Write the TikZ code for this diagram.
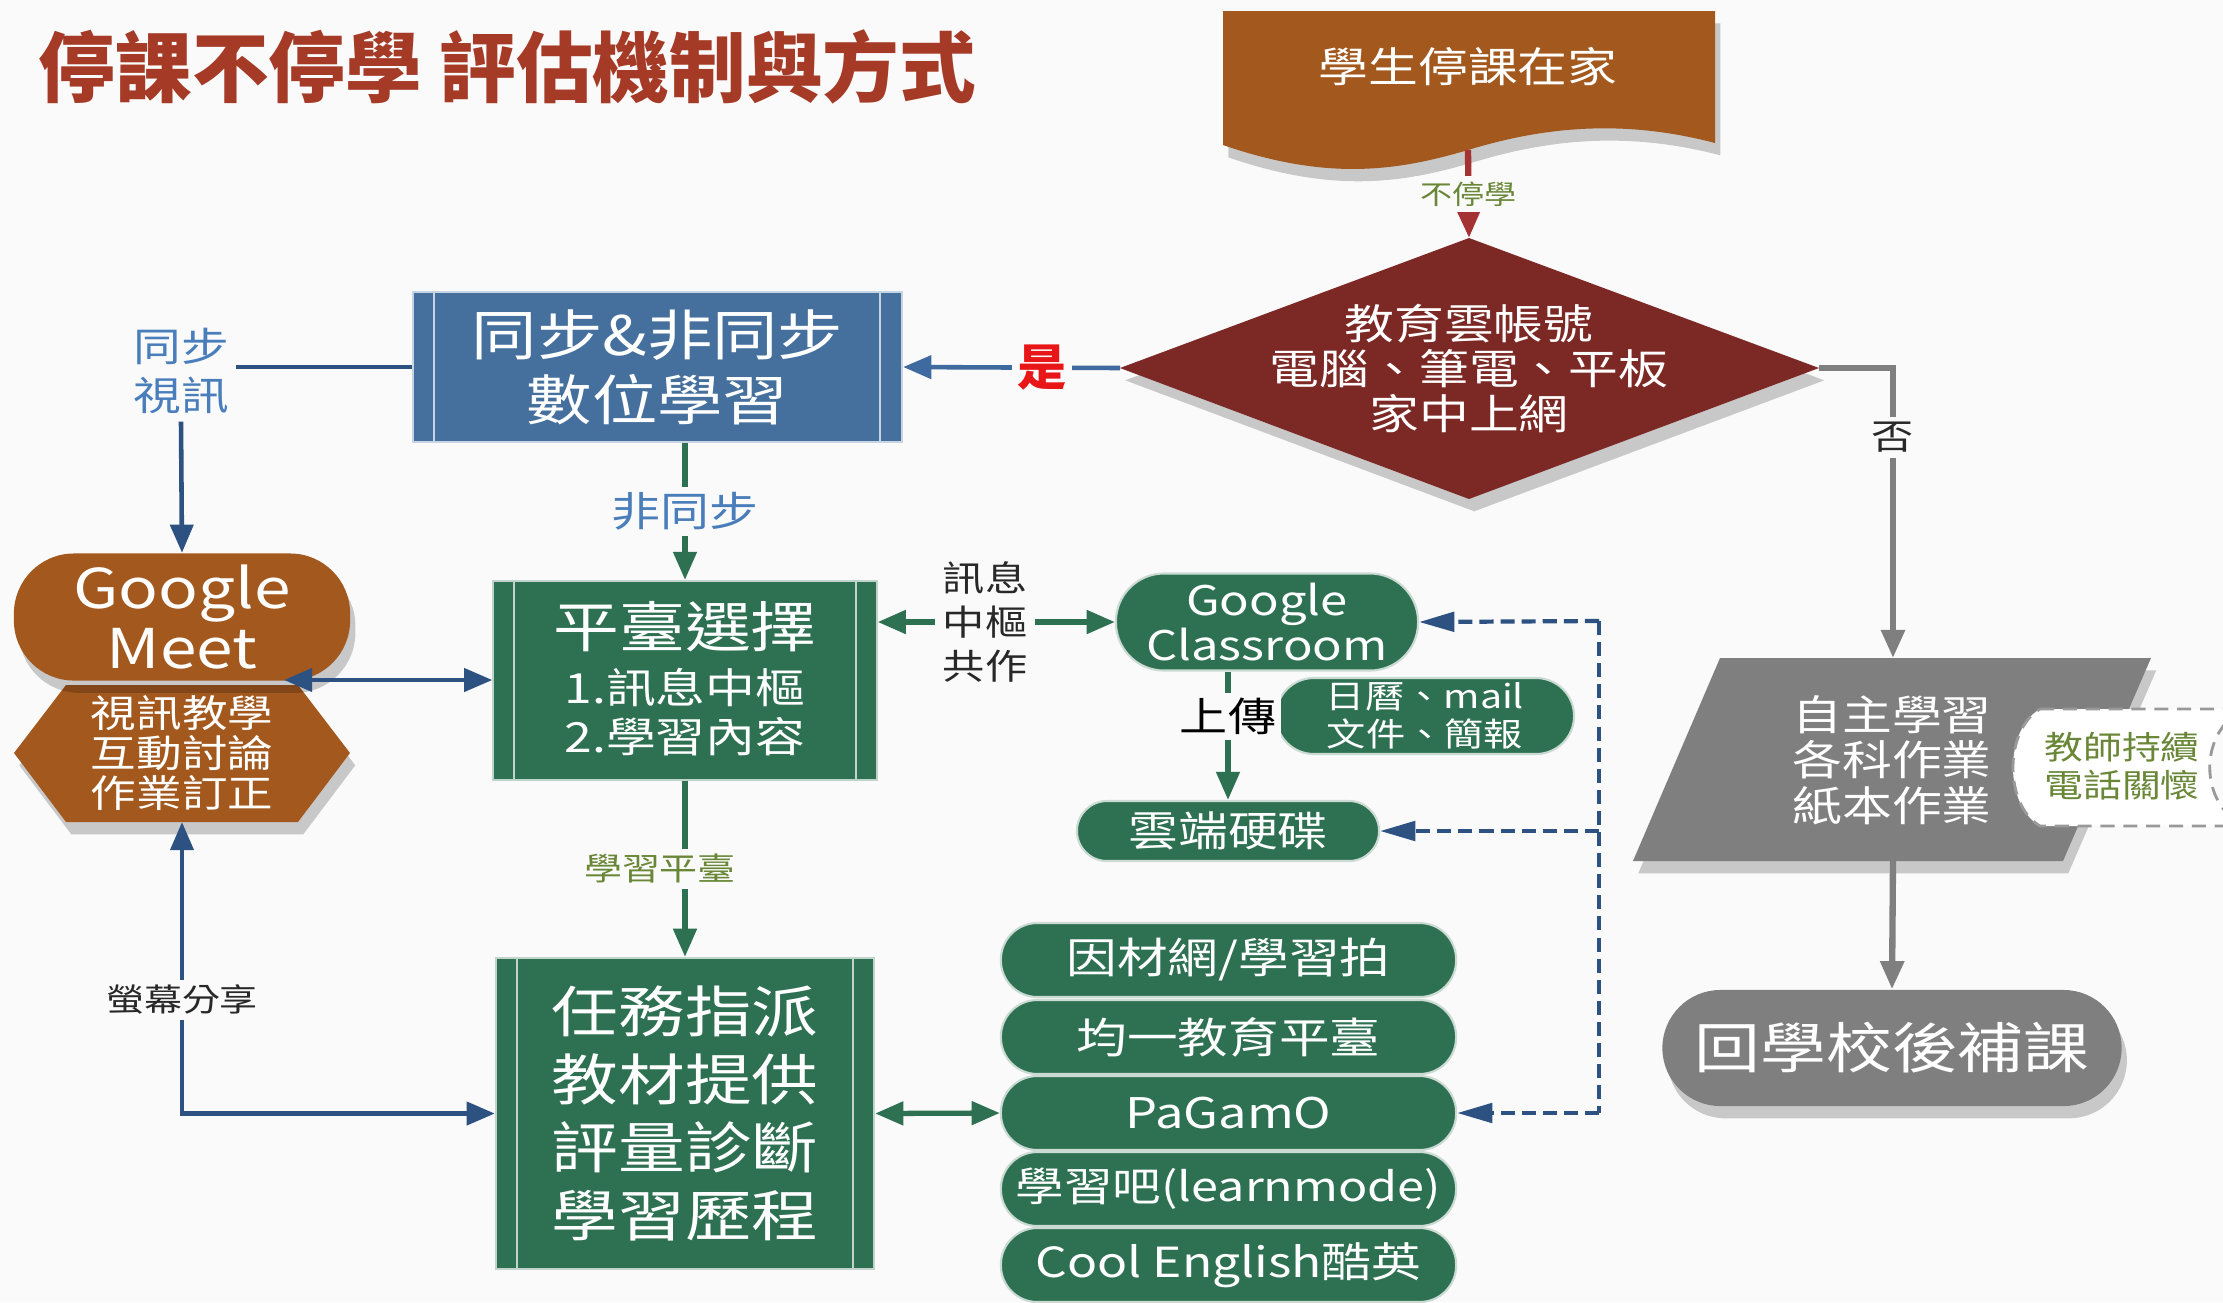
\documentclass[tikz,border=0pt]{standalone}
\usepackage{fontspec}
\usetikzlibrary{arrows.meta,shapes.geometric,shadows,calc}
\newfontfamily\cjk[FakeStretch=1.2]{Noto Sans CJK TC}
\newfontfamily\cjkt{Noto Sans CJK TC}
\newcommand\myfs[2]{\fontsize{#1}{#2}\selectfont}
\definecolor{bg}{RGB}{250,250,251}
\definecolor{titlec}{RGB}{165,58,38}
\definecolor{brownc}{RGB}{163,88,30}
\definecolor{redc}{RGB}{124,40,36}
\definecolor{bluebox}{RGB}{69,112,158}
\definecolor{greenc}{RGB}{46,113,82}
\definecolor{navy}{RGB}{45,82,130}
\definecolor{bluetext}{RGB}{74,126,187}
\definecolor{grayc}{RGB}{127,127,127}
\definecolor{olivec}{RGB}{105,135,55}
\definecolor{arrred}{RGB}{165,50,50}
\definecolor{linkblue}{RGB}{62,106,160}
\definecolor{yesred}{RGB}{232,22,22}
\definecolor{darktext}{RGB}{40,40,40}
\begin{document}
\begin{tikzpicture}[x=0.01cm,y=-0.01cm,
  shad/.style={drop shadow={shadow xshift=1.5pt,shadow yshift=-3.5pt,opacity=0.2,fill=black}},
  wt/.style={text=white,align=center,inner sep=0pt},
  tipa/.tip={Triangle[length=8pt,width=6.5pt]},
  tipd/.tip={Triangle[length=10pt,width=5.5pt]},
  garr/.style={draw=greenc,line width=1.5pt,-tipa},
  gboth/.style={draw=greenc,line width=1.5pt,tipa-tipa},
  narr/.style={draw=navy,line width=1.3pt,-tipa},
  nboth/.style={draw=navy,line width=1.3pt,tipa-tipa},
  dline/.style={draw=navy,line width=1.2pt,dash pattern=on 4pt off 2pt},
  darr/.style={dline,-tipd},
  lbl/.style={fill=bg,inner sep=1.5pt,align=center},
  stad/.style={fill=greenc,draw=white!75!greenc,line width=0.6pt,wt},
  pbox/.style={draw=white!70!#1,fill=#1,line width=0.6pt,wt},
]
\useasboundingbox (0,0) rectangle (2223,1302);
\fill[bg] (0,0) rectangle (2223,1302);

% title
\node[anchor=west,inner sep=0pt,text=titlec,font=\cjkt\bfseries\myfs{21.8}{24}] (title) at (38,67) {停課不停學 評估機制與方式};

% top document shape
\fill[brownc,shad] (1223,11) -- (1715,11) -- (1715,143)
  .. controls (1620,118) and (1540,128) .. (1468,150)
  .. controls (1400,170) and (1330,182) .. (1223,145) -- cycle;
\node[wt,font=\cjk\myfs{11.8}{14}] (home) at (1468,67) {學生停課在家};
\coordinate (hB) at (1468,150);

% diamond
\fill[redc,shad] (1120,368) -- (1469,238) -- (1819,368) -- (1469,499) -- cycle;
\coordinate (dT) at (1469,238);
\coordinate (dL) at (1120,368);
\coordinate (dR) at (1819,368);
\node[wt,font=\cjk\myfs{11.8}{12.8}] (diam) at (1469,368) {教育雲帳號\\電腦、筆電、平板\\家中上網};

% blue process box
\node[pbox=bluebox,minimum width=4.89cm,minimum height=1.50cm,font=\cjk\myfs{15.5}{18.5}] (sync) at (657.5,367) {同步\&非同步\\數位學習};
\draw[white!70!bluebox,line width=0.6pt] ([xshift=0.22cm]sync.north west) -- ([xshift=0.22cm]sync.south west);
\draw[white!70!bluebox,line width=0.6pt] ([xshift=-0.23cm]sync.north east) -- ([xshift=-0.23cm]sync.south east);

% platform choice box
\node[pbox=greenc,minimum width=3.83cm,minimum height=1.99cm] (plat) at (685,680.5) {};
\draw[white!70!greenc,line width=0.6pt] ([xshift=0.22cm]plat.north west) -- ([xshift=0.22cm]plat.south west);
\draw[white!70!greenc,line width=0.6pt] ([xshift=-0.22cm]plat.north east) -- ([xshift=-0.22cm]plat.south east);
\node[wt,font=\cjk\myfs{15.6}{18}] (platT) at (685,627) {平臺選擇};
\node[wt,font=\cjk\myfs{11.8}{14}] (platL) at (685,712) {1.訊息中樞\\2.學習內容};

% task box
\node[pbox=greenc,minimum width=3.78cm,minimum height=3.11cm,font=\cjk\myfs{15.8}{19.3}] (task) at (685,1113.5) {任務指派\\教材提供\\評量診斷\\學習歷程};
\draw[white!70!greenc,line width=0.6pt] ([xshift=0.22cm]task.north west) -- ([xshift=0.22cm]task.south west);
\draw[white!70!greenc,line width=0.6pt] ([xshift=-0.22cm]task.north east) -- ([xshift=-0.22cm]task.south east);

% Google Meet + hexagon
\fill[brownc,shad] (14,753) -- (66,685) -- (298,685) -- (350,753) -- (298,822) -- (66,822) -- cycle;
\node[wt,font=\cjk\myfs{10.8}{11.5}] (hext) at (182,753) {視訊教學\\互動討論\\作業訂正};
\coordinate (hexB) at (182,822);
\node[fill=brownc,rounded corners=0.6cm,minimum width=3.36cm,minimum height=1.27cm,wt,font=\cjk\myfs{15.6}{17},shad] (meet) at (182,617) {Google\\Meet};
\coordinate (meetR) at (284,680);

% sync label
\node[inner sep=2pt,align=center,text=bluetext,font=\cjk\myfs{11.3}{14}] (sv) at (181,371) {同步\\視訊};

% Google Classroom etc.
\node[stad,rounded corners=0.48cm,minimum width=3.02cm,minimum height=0.97cm,font=\cjk\myfs{11.6}{12.9}] (gc) at (1267,622) {Google\\Classroom};
\node[stad,rounded corners=0.38cm,minimum width=2.98cm,minimum height=0.76cm,font=\cjk\myfs{9.3}{10.9}] (cal) at (1425,716) {日曆、mail\\文件、簡報};
\node[stad,rounded corners=0.30cm,minimum width=3.02cm,minimum height=0.60cm,font=\cjk\myfs{11.8}{14}] (cloud) at (1228,831) {雲端硬碟};
\node[inner sep=2pt,align=center,text=darktext,font=\cjk\myfs{10}{12.5}] (msg) at (985,622) {訊息\\中樞\\共作};

% stacked platforms
\node[stad,rounded corners=0.365cm,minimum width=4.55cm,minimum height=0.74cm,font=\cjk\myfs{12}{14}] (s1) at (1228.5,960) {因材網/學習拍};
\node[stad,rounded corners=0.365cm,minimum width=4.55cm,minimum height=0.74cm,font=\cjk\myfs{12}{14}] (s2) at (1228.5,1037) {均一教育平臺};
\node[stad,rounded corners=0.365cm,minimum width=4.55cm,minimum height=0.74cm,font=\cjk\myfs{12}{14}] (s3) at (1228.5,1113) {PaGamO};
\node[stad,rounded corners=0.365cm,minimum width=4.55cm,minimum height=0.74cm,font=\cjk\myfs{11.5}{14}] (s4) at (1228.5,1189) {學習吧(learnmode)};
\node[stad,rounded corners=0.365cm,minimum width=4.55cm,minimum height=0.74cm,font=\cjk\myfs{11.8}{14}] (s5) at (1228.5,1265) {Cool English酷英};

% right branch
\fill[grayc,shad] (1720,658) -- (2151,658) -- (2063,861) -- (1633,861) -- cycle;
\coordinate (pT) at (1893,658);
\coordinate (pB) at (1893,861);
\node[wt,font=\cjk\myfs{11.8}{13}] (self) at (1892,760) {自主學習\\各科作業\\紙本作業};
\path[fill=white,draw=grayc!80,line width=0.8pt,dash pattern=on 4pt off 2.5pt]
  (2040,709) -- (2245,709) .. controls (2198,730) and (2198,805) .. (2245,826)
  -- (2040,826) .. controls (2004,805) and (2004,730) .. (2040,709) -- cycle;
\node[align=center,inner sep=0pt,text=olivec,font=\cjk\myfs{9.2}{10.9}] (call) at (2122,766) {教師持續\\電話關懷};
\node[fill=grayc,rounded corners=0.58cm,minimum width=4.59cm,minimum height=1.16cm,wt,font=\cjk\myfs{15.6}{18},shad] (back) at (1892,1048) {回學校後補課};

% connectors
\draw[draw=arrred,line width=1.8pt,-tipa] (hB) -- node[lbl,text=olivec,font=\cjk\myfs{7.6}{9}] {不停學} (dT);
\draw[draw=linkblue,line width=1.3pt,-tipa] (dL) -- node[lbl,pos=0.36,text=yesred,font=\cjkt\bfseries\myfs{14}{16}] {是} (sync.east);
\draw[draw=grayc,line width=1.8pt,-tipa] (dR) -| node[lbl,pos=0.62,text=darktext,font=\cjk\myfs{10}{12}] {否} (pT);
\draw[draw=grayc,line width=1.8pt,-tipa] (pB) -- (back.north);

\draw[draw=navy,line width=1.3pt] (sync.west) -- (sync.west -| sv.east);
\draw[narr] (sv.south) -- (meet.north);
\draw[nboth] (meetR) -- (meetR -| plat.west);
\draw[nboth] (hexB) |- node[lbl,pos=0.305,text=darktext,font=\cjk\myfs{9}{11}] {螢幕分享} (task.west);

\draw[garr] (plat.north |- sync.south) -- node[lbl,text=bluetext,font=\cjk\myfs{11.6}{13}] {非同步} (plat.north);
\draw[garr] (plat.south) -- node[lbl,xshift=-0.25cm,text=olivec,font=\cjk\myfs{9}{11}] {學習平臺} (task.north);
\draw[garr] (msg.west) -- (msg.west -| plat.east);
\draw[garr] (msg.east) -- (gc.west);
\draw[garr] (gc.south -| cloud.north) -- node[lbl,pos=0.35,text=black,font=\cjk\myfs{11.4}{13}] {上傳} (cloud.north);
\draw[gboth] (task.east) -- (s3.west);

\coordinate (dv1) at (1599,621);
\coordinate (dv2) at (1599,831);
\coordinate (dv3) at (1599,1113);
\draw[dline] (dv1) -- (dv3);
\draw[darr] (dv1) -- (gc.east);
\draw[darr] (dv2) -- (cloud.east);
\draw[darr] (dv3) -- (s3.east);
\end{tikzpicture}
\end{document}
